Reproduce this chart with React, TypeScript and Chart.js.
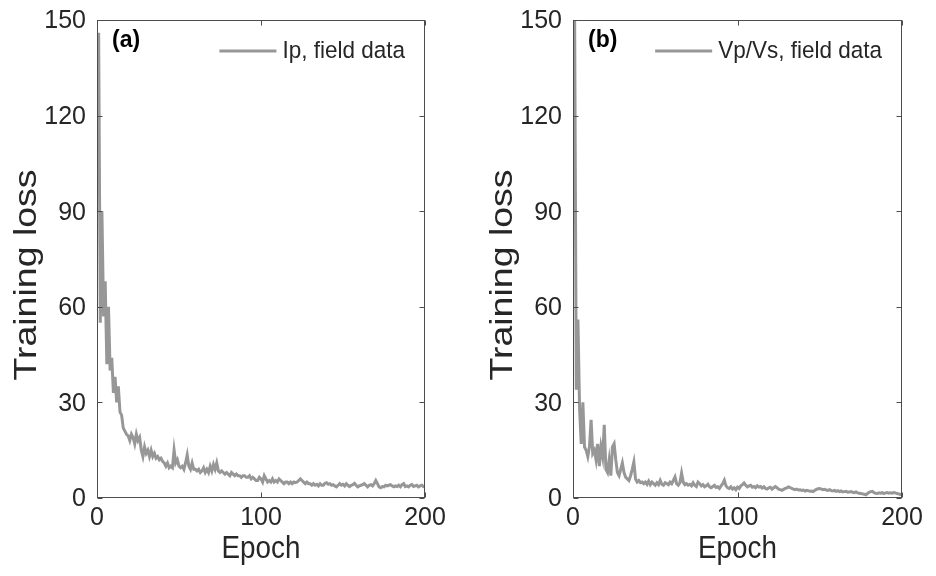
import React, { useEffect, useRef } from "react";
import { Chart, registerables } from "chart.js";

Chart.register(...registerables);

// ---------- data ----------
const epochs: number[] = Array.from({ length: 200 }, (_, i) => i + 1);

const ipLoss: number[] = [
  146, 55, 90, 57, 68, 42, 60, 40, 44, 33,
  38, 30, 35, 27, 26, 22, 21, 20, 19.5, 18,
  20, 19, 17, 20, 18, 19, 15, 13, 16, 14,
  15, 13, 15, 13, 14, 12.5, 13, 12, 12.5, 11.5,
  11, 10, 11, 9.5, 10, 9.5, 15, 11, 12, 10,
  9.5, 10, 9, 11, 13.5, 10, 9, 11, 9, 9,
  8.5, 9, 8, 8.5, 9.5, 8, 9, 8, 10, 8.5,
  10.5, 9, 11, 8.5, 8, 8.5, 8, 7.5, 8, 7.5,
  7, 8, 7.5, 7, 7.5, 7, 7, 6.5, 7, 7,
  6.5, 6.5, 7, 6, 6.5, 6, 5.5, 5.5, 6.5, 6,
  5, 7, 6, 5, 5.5, 5, 6, 5, 5.5, 5,
  6, 5.5, 5, 4.5, 5, 5, 4.5, 5, 4.5, 5,
  4.8, 5, 5.5, 6, 5.5, 5, 4.5, 5, 4.5, 4.5,
  4, 4.5, 4, 4.3, 3.8, 4.5, 4, 4, 4.6, 4.8,
  4.3, 4.5, 4, 4.2, 3.8, 3.5, 4, 4.5, 4, 4.3,
  3.8, 4.5, 4, 3.6, 4, 4.2, 4.6, 4, 3.5, 3.8,
  4, 4.2, 4.5, 4, 3.5, 4, 4.2, 3.8, 4.5, 5.5,
  4.5, 3.5, 3.2, 3.6, 3.5, 4, 3.8, 4, 4.2, 3.8,
  3.5, 3.8, 3.6, 4, 3.5, 4.2, 4.5, 3.6, 3.8, 3.5,
  4, 4.2, 3.6, 3.8, 4, 3.5, 3.8, 4, 3.6, 3.8,
];

const vpvsLoss: number[] = [
  150, 34, 56, 28, 17, 30, 16, 15, 13, 16,
  24.5, 14, 15, 12, 17, 10, 16, 13, 23, 9,
  8, 12, 7, 16, 17, 12, 8, 7, 9, 11,
  8, 6.5, 6, 5.5, 7, 9, 11.3, 6, 5, 5.5,
  4.8, 5, 4.5, 5, 4.3, 5.3, 4.2, 5, 4.5, 4,
  4.8, 4.2, 5.5, 4.3, 4, 4.8, 4.5, 4.2, 5, 4.5,
  5.5, 6.6, 4.5, 4, 4.8, 7.8, 5, 4.2, 4.5, 4,
  4.3, 3.8, 4.8, 4, 3.6, 5, 4.5, 3.8, 4.2, 3.5,
  3.8, 4.3, 3.5, 3.2, 3.6, 4, 3.3, 3.5, 3, 3.8,
  4.5, 5.6, 3.8, 3.2, 3, 3.5, 2.8, 3.2, 2.6, 3.4,
  3, 3.8, 4.2, 4.7, 4, 3.5, 3.8, 4, 3.4, 3.6,
  3.2, 3.8, 3.4, 3.6, 3.1, 3.5, 3, 2.8, 3.2, 3.4,
  2.8, 3.2, 3.6, 3.2, 2.8, 2.6, 2.4, 2.7, 3, 3.2,
  3.5, 3.3, 3, 2.8, 2.6, 2.8, 2.5, 2.6, 2.4, 2.5,
  2.2, 2.4, 2.3, 2.1, 2.2, 2, 2.4, 2.7, 2.9, 3,
  2.8, 2.6, 2.7, 2.5, 2.4, 2.6, 2.3, 2.2, 2.4, 2.1,
  2.3, 2, 2.2, 1.9, 2, 2.1, 1.8, 1.9, 2, 1.8,
  1.7, 1.9, 1.6, 1.5, 1.4, 1.3, 1.2, 1, 1.4, 1.8,
  2, 2.1, 1.7, 1.5, 1.4, 1.6, 1.5, 1.7, 1.4, 1.6,
  1.7, 1.5, 1.6, 1.5, 1.7, 1.6, 1.4, 1.3, 1.1, 1,
];

const yTicks: number[] = [0, 30, 60, 90, 120, 150];
const xTicks: number[] = [0, 100, 200];
const panelLabels: string[] = ["(a)", "(b)"];
const seriesLabels: string[] = ["Ip, field data", "Vp/Vs, field data"];
const xTitle = "Epoch";
const yTitle = "Training loss";

// ---------- styles ----------
const FONT = "'Liberation Sans', Arial, Helvetica, sans-serif";
const TEXT = "#262626";
const AXIS = "#4d4d4d";
const LINE = "#979797";

function drawText(
  ctx: CanvasRenderingContext2D,
  text: string,
  x: number,
  y: number,
  font: string,
  align: CanvasTextAlign,
  baseline: CanvasTextBaseline,
  sx: number,
  sy: number,
  rot = 0,
  color = TEXT
) {
  ctx.save();
  ctx.translate(x, y);
  if (rot) ctx.rotate(rot);
  ctx.scale(sx, sy);
  ctx.font = font;
  ctx.fillStyle = color;
  ctx.textAlign = align;
  ctx.textBaseline = baseline;
  ctx.fillText(text, 0, 0);
  ctx.restore();
}

const framePlugin = {
  id: "frame",
  afterDatasetsDraw(chart: any, _args: any, opts: any) {
    const { ctx, chartArea, scales } = chart;
    const { left, right, top, bottom } = chartArea;
    const xs = scales.x;
    const ys = scales.y;
    ctx.save();
    ctx.strokeStyle = AXIS;
    ctx.lineWidth = 1;
    const L = Math.round(left) + 0.5;
    const R = Math.round(right) - 0.5;
    const T = Math.round(top) + 0.5;
    const B = Math.round(bottom) - 0.5;
    ctx.strokeRect(L, T, R - L, B - T);
    const tl = 5;
    ctx.beginPath();
    for (const v of yTicks) {
      const py = Math.round(ys.getPixelForValue(v)) + 0.5;
      ctx.moveTo(L, py);
      ctx.lineTo(L + tl, py);
      ctx.moveTo(R, py);
      ctx.lineTo(R - tl, py);
    }
    for (const v of xTicks) {
      const px = Math.round(xs.getPixelForValue(v)) + 0.5;
      ctx.moveTo(px, B);
      ctx.lineTo(px, B - tl);
      ctx.moveTo(px, T);
      ctx.lineTo(px, T + tl);
    }
    ctx.stroke();
    ctx.restore();

    // tick labels
    const tickFont = `25px ${FONT}`;
    for (const v of yTicks) {
      drawText(ctx, String(v), left - 11, ys.getPixelForValue(v) + 1, tickFont, "right", "middle", 1, 1.06);
    }
    for (const v of xTicks) {
      drawText(ctx, String(v), xs.getPixelForValue(v), bottom + 20, tickFont, "center", "middle", 1, 1.06);
    }

    // axis titles
    drawText(ctx, xTitle, (left + right) / 2, bottom + 51, `27px ${FONT}`, "center", "middle", 1.03, 1.15);
    drawText(ctx, yTitle, left - 61, (top + bottom) / 2 + 16, `30px ${FONT}`, "center", "alphabetic", 1.25, 1.05, -Math.PI / 2);

    // panel label
    drawText(ctx, opts.panel, left + 15, top + 27, `bold 23px ${FONT}`, "left", "alphabetic", 1, 1.08, 0, "#000");

    // legend
    const ds = chart.data.datasets[0];
    const legFont = `22.5px ${FONT}`;
    ctx.save();
    ctx.font = legFont;
    const tw = ctx.measureText(ds.label).width;
    ctx.restore();
    const tx = right - 20 - tw;
    const ly = top + 31;
    drawText(ctx, ds.label, tx, ly, legFont, "left", "middle", 1, 1.1);
    ctx.save();
    ctx.strokeStyle = ds.borderColor;
    ctx.lineWidth = 3;
    ctx.beginPath();
    ctx.moveTo(tx - 63, ly);
    ctx.lineTo(tx - 6, ly);
    ctx.stroke();
    ctx.restore();
  },
};

function Panel({ values, label, panel, padLeft, padRight }: any) {
  const ref = useRef<HTMLCanvasElement | null>(null);
  useEffect(() => {
    if (!ref.current) return;
    const chart = new Chart(ref.current, {
      type: "line",
      data: {
        datasets: [
          {
            label,
            data: epochs.map((e, i) => ({ x: e, y: values[i] })),
            borderColor: LINE,
            borderWidth: 3,
            pointRadius: 0,
            tension: 0,
            fill: false,
          },
        ],
      },
      options: {
        responsive: false,
        animation: false,
        events: [],
        layout: { padding: { top: 20, right: padRight, bottom: 0, left: padLeft } },
        plugins: {
          legend: { display: false },
          tooltip: { enabled: false },
          frame: { panel },
        } as any,
        scales: {
          x: {
            type: "linear",
            min: 0,
            max: 200,
            afterBuildTicks: (s: any) => {
              s.ticks = xTicks.map((v) => ({ value: v }));
            },
            afterFit: (s: any) => {
              s.height = 78;
            },
            grid: { display: false, drawTicks: false },
            border: { display: false },
            ticks: { display: false },
            title: { display: false },
          },
          y: {
            type: "linear",
            min: 0,
            max: 150,
            afterBuildTicks: (s: any) => {
              s.ticks = yTicks.map((v) => ({ value: v }));
            },
            afterFit: (s: any) => {
              s.width = 97;
            },
            grid: { display: false, drawTicks: false },
            border: { display: false },
            ticks: { display: false },
            title: { display: false },
          },
        },
      },
      plugins: [framePlugin],
    } as any);
    return () => chart.destroy();
  }, []);
  return <canvas ref={ref} width={468} height={576} style={{ display: "block" }} />;
}

export default function App() {
  return (
    <div style={{ position: "fixed", left: 0, top: 0, width: 936, height: 576, background: "#fff", display: "flex" }}>
      <Panel values={ipLoss} label={seriesLabels[0]} panel={panelLabels[0]} padLeft={0} padRight={43} />
      <Panel values={vpvsLoss} label={seriesLabels[1]} panel={panelLabels[1]} padLeft={8} padRight={34} />
    </div>
  );
}
